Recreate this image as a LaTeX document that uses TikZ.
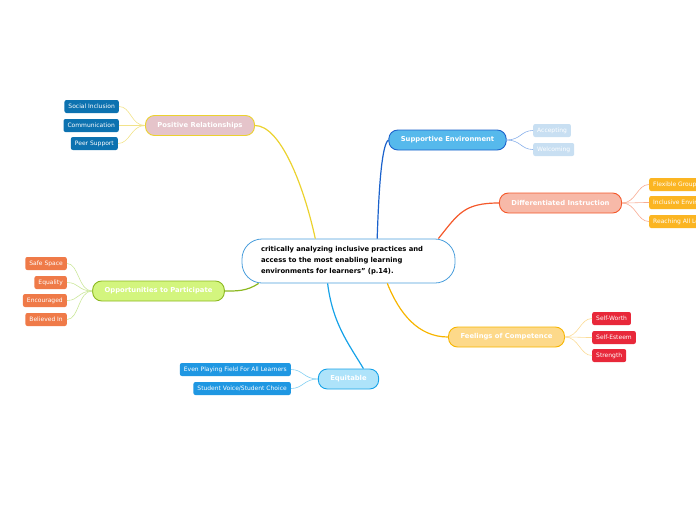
\documentclass[tikz,border=0pt]{standalone}
\usepackage{fontspec}
\setmainfont{DejaVu Sans}

\definecolor{centreline}{HTML}{4A9EDC}
\definecolor{prfill}{HTML}{E5C4CA}
\definecolor{prline}{HTML}{EBD22E}
\definecolor{prtwig}{HTML}{F2E38A}
\definecolor{prleaf}{HTML}{0D72B0}
\definecolor{sefill}{HTML}{56B9EC}
\definecolor{seline}{HTML}{1B62CC}
\definecolor{setwig}{HTML}{86AEEA}
\definecolor{seleaf}{HTML}{C8DFF2}
\definecolor{difill}{HTML}{F7B9A8}
\definecolor{diline}{HTML}{F4582A}
\definecolor{ditwig}{HTML}{F8AC94}
\definecolor{dileaf}{HTML}{FBB522}
\definecolor{opfill}{HTML}{D3F57E}
\definecolor{opline}{HTML}{8CB820}
\definecolor{optwig}{HTML}{CBE79A}
\definecolor{opleaf}{HTML}{EF7A48}
\definecolor{eqfill}{HTML}{AEE3FA}
\definecolor{eqline}{HTML}{16A2E8}
\definecolor{eqtwig}{HTML}{84D0F2}
\definecolor{eqleaf}{HTML}{1F97E2}
\definecolor{fcfill}{HTML}{FDD98A}
\definecolor{fcline}{HTML}{F7B500}
\definecolor{fctwig}{HTML}{FBDC98}
\definecolor{fcleaf}{HTML}{E8283A}

\begin{document}
\begin{tikzpicture}[
        x=1pt,
        y=-1pt,
        font=\fontsize{6}{7}\selectfont,
        topic/.style={draw, line width=0.9pt, rounded corners=9pt,
            minimum height=20pt, inner xsep=12pt, inner ysep=0pt, text=white,
            font=\fontsize{6.8}{8}\selectfont\bfseries},
        leaf/.style={rounded corners=2pt, minimum height=13pt,
            inner xsep=4pt, inner ysep=0pt, text=white},
        branch/.style={line width=1.2pt},
        twig/.style={line width=0.6pt}
    ]

    \useasboundingbox (0,0) rectangle (696,520);
    \clip (0,0) rectangle (696,520);

    % Centre
    \node[draw=centreline, line width=0.8pt, fill=white, rounded corners=20pt,
        text width=175pt, align=left, inner xsep=19pt, minimum height=44pt,
        font=\fontsize{6.8}{11}\selectfont\bfseries] (centre) at (348.5,261)
        {critically analyzing inclusive practices and\\
         access to the most enabling learning\\
         environments for learners" (p.14).};

    % Positive Relationships
    \node[topic, fill=prfill, draw=prline] (pr) at (200,125.5) {Positive Relationships};
    \node[leaf, fill=prleaf, anchor=east] (si) at (119,106.5) {Social Inclusion};
    \node[leaf, fill=prleaf, anchor=east] (comm) at (119,125.5) {Communication};
    \node[leaf, fill=prleaf, anchor=east] (ps) at (118,143.5) {Peer Support};

    % Supportive Environment
    \node[topic, fill=sefill, draw=seline] (se) at (447.5,140) {Supportive Environment};
    \node[leaf, fill=seleaf, anchor=west] (acc) at (533,130.5) {Accepting};
    \node[leaf, fill=seleaf, anchor=west] (wel) at (533,149.5) {Welcoming};

    % Differentiated Instruction
    \node[topic, fill=difill, draw=diline] (di) at (560.5,203) {Differentiated Instruction};
    \node[leaf, fill=dileaf, anchor=west] (fg) at (649,184.5) {Flexible Grouping};
    \node[leaf, fill=dileaf, anchor=west] (ie) at (649,202.5) {Inclusive Environment};
    \node[leaf, fill=dileaf, anchor=west] (ral) at (649,221.5) {Reaching All Learners};

    % Opportunities to Participate
    \node[topic, fill=opfill, draw=opline] (op) at (158.5,291) {Opportunities to Participate};
    \node[leaf, fill=opleaf, anchor=east] (ss) at (67,263.5) {Safe Space};
    \node[leaf, fill=opleaf, anchor=east] (eql) at (67,282.5) {Equality};
    \node[leaf, fill=opleaf, anchor=east] (enc) at (67,300.5) {Encouraged};
    \node[leaf, fill=opleaf, anchor=east] (bi) at (67,319.5) {Believed In};

    % Equitable
    \node[topic, fill=eqfill, draw=eqline] (eq) at (348.5,379) {Equitable};
    \node[leaf, fill=eqleaf, anchor=east] (epf) at (291,369.5) {Even Playing Field For All Learners};
    \node[leaf, fill=eqleaf, anchor=east] (svc) at (291,388.5) {Student Voice/Student Choice};

    % Feelings of Competence
    \node[topic, fill=fcfill, draw=fcline] (fc) at (506.5,337) {Feelings of Competence};
    \node[leaf, fill=fcleaf, anchor=west] (sw) at (592,318.5) {Self-Worth};
    \node[leaf, fill=fcleaf, anchor=west] (sest) at (592,337.5) {Self-Esteem};
    \node[leaf, fill=fcleaf, anchor=west] (str) at (592,355.5) {Strength};

    % Branches
    \draw[branch, prline] (centre.146) .. controls +(-12,-55) and +(25,0) .. (pr.east);
    \draw[branch, seline] (centre.38) .. controls +(2,-60) and +(-6,5) .. (se.west);
    \draw[branch, diline] (centre.14) .. controls +(20,-25) and +(-35,0) .. (di.west);
    \draw[branch, opline] (centre.194) .. controls +(-12,8) and +(12,0) .. (op.east);
    \draw[branch, eqline] (centre.227) .. controls +(5,40) and +(-15,-25) .. (eq.35);
    \draw[branch, fcline] (centre.330) .. controls +(12,30) and +(-30,0) .. (fc.west);

    % Twigs
    \foreach \k in {si,comm,ps}
        \draw[twig, prtwig] (pr.west) .. controls +(-14,0) and +(12,0) .. (\k.east);
    \foreach \k in {acc,wel}
        \draw[twig, setwig] (se.east) .. controls +(14,0) and +(-12,0) .. (\k.west);
    \foreach \k in {fg,ie,ral}
        \draw[twig, ditwig] (di.east) .. controls +(14,0) and +(-12,0) .. (\k.west);
    \foreach \k in {ss,eql,enc,bi}
        \draw[twig, optwig] (op.west) .. controls +(-14,0) and +(12,0) .. (\k.east);
    \foreach \k in {epf,svc}
        \draw[twig, eqtwig] (eq.west) .. controls +(-14,0) and +(12,0) .. (\k.east);
    \foreach \k in {sw,sest,str}
        \draw[twig, fctwig] (fc.east) .. controls +(14,0) and +(-12,0) .. (\k.west);

\end{tikzpicture}
\end{document}
